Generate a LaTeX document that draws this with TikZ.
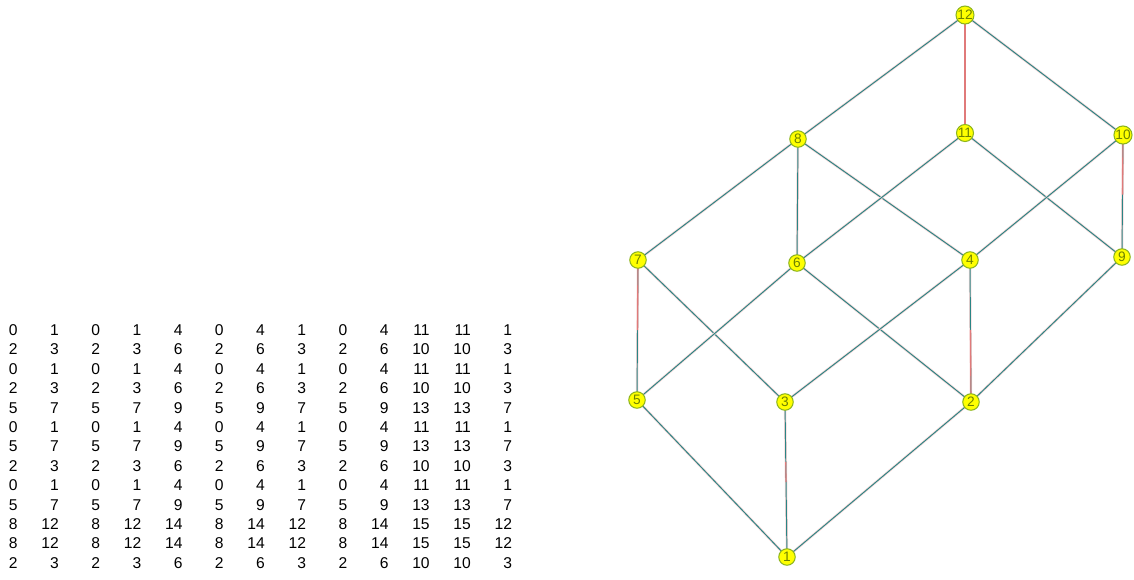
\documentclass[tikz,border=0pt]{standalone}
\usepackage{fontspec}
\setsansfont{Liberation Sans}
\usepackage{tikz}
\definecolor{vtxfill}{HTML}{FFFF00}
\definecolor{vtxline}{HTML}{8CB41E}
\definecolor{vtxtext}{HTML}{6E8200}
\definecolor{edgeteal}{HTML}{2A8585}
\definecolor{edgered}{HTML}{E07A7A}

\begin{document}
\begin{tikzpicture}[x=0.02cm,y=-0.02cm,font=\sffamily,
 num/.style={anchor=base east,inner sep=0pt,font=\sffamily\fontsize{8.9}{10}\selectfont},
 vtx/.style={circle,draw=vtxline,fill=vtxfill,line width=.6pt,minimum size=0.33cm,inner sep=0pt,text=vtxtext,font=\sffamily\fontsize{7.8}{8}\selectfont},
 edg/.style={draw=edgeteal,line width=.55pt,preaction={draw=edgered!30,line width=1.4pt}},
 redg/.style={draw=edgered,line width=.65pt}]
\path[use as bounding box] (0,0) rectangle (1134,579);
\foreach \row [count=\r] in {{0,1,0,1,4,0,4,1,0,4,11,11,1},{2,3,2,3,6,2,6,3,2,6,10,10,3},{0,1,0,1,4,0,4,1,0,4,11,11,1},{2,3,2,3,6,2,6,3,2,6,10,10,3},{5,7,5,7,9,5,9,7,5,9,13,13,7},{0,1,0,1,4,0,4,1,0,4,11,11,1},{5,7,5,7,9,5,9,7,5,9,13,13,7},{2,3,2,3,6,2,6,3,2,6,10,10,3},{0,1,0,1,4,0,4,1,0,4,11,11,1},{5,7,5,7,9,5,9,7,5,9,13,13,7},{8,12,8,12,14,8,14,12,8,14,15,15,12},{8,12,8,12,14,8,14,12,8,14,15,15,12},{2,3,2,3,6,2,6,3,2,6,10,10,3}}
 {\foreach \v [count=\c] in \row {\node[num] (m-\r-\c) at ({18+41.2*(\c-1)},{335.5+19.4*(\r-1)}) {\v};}}
\coordinate (p12) at (965,15);
\coordinate (p8) at (798,139);\coordinate (p11) at (965,133);\coordinate (p10) at (1123,135);
\coordinate (p7) at (638,260);\coordinate (p6) at (797,263);\coordinate (p4) at (970,260);\coordinate (p9) at (1122,257);
\coordinate (p5) at (637,400);\coordinate (p3) at (785,402);\coordinate (p2) at (971,402);
\coordinate (p1) at (787,557);
\foreach \a/\b in {12/8,12/11,12/10,8/7,8/6,8/4,11/6,11/9,10/4,10/9,7/5,7/3,6/5,6/2,4/3,4/2,9/2,5/1,3/1,2/1}
 \draw[edg] (p\a)--(p\b);
\draw[redg] (p12)--(p11);
\draw[redg,shorten >=1.4cm] (p7)--(p5);
\draw[redg,shorten >=1.25cm] (p10)--(p9);
\draw[redg,shorten <=1.4cm] (p4)--(p2);
\draw[redg,shorten <=1.2cm,shorten >=1.5cm] (p3)--(p1);
\foreach \n in {1,...,12}
 \node[vtx] (n\n) at (p\n) {\n};
\end{tikzpicture}
\end{document}
